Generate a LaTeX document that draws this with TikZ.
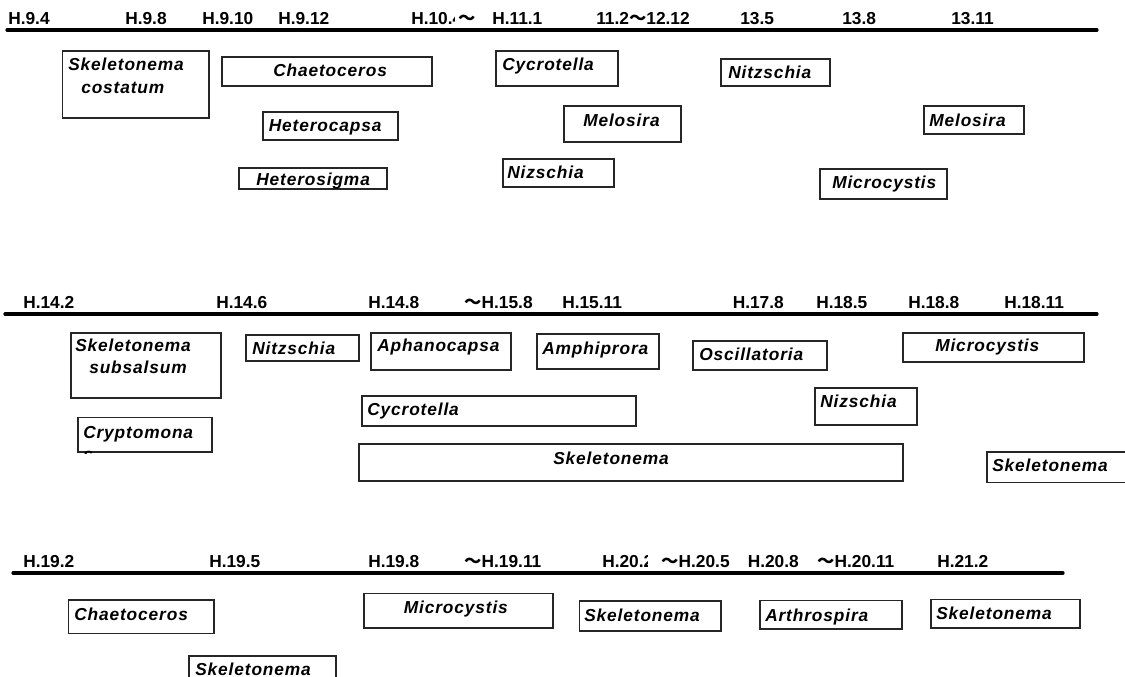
\documentclass[tikz,border=0pt]{standalone}
\usepackage{fontspec}
\setmainfont{Liberation Sans}
\newfontfamily\cjk{Noto Sans CJK JP}
\newfontfamily\spfont[LetterSpace=5]{Liberation Sans}
\tikzset{
  hdr/.style={anchor=base west, inner sep=0pt, font=\fontsize{13}{15}\selectfont\bfseries},
  sp/.style={anchor=base west, inner sep=0pt, font=\fontsize{13}{15}\selectfont\spfont\bfseries\itshape},
  boxline/.style={draw=black!85, line width=0.8pt},
  axis/.style={line width=2.4pt, line cap=round},
}
\begin{document}
\begin{tikzpicture}[x=0.75pt,y=-0.75pt]
\useasboundingbox (0,0) rectangle (1125,677);
% ---------- Row 1 ----------
\coordinate (r1a) at (7,30);
\coordinate (r1b) at (1097,30);
\draw[axis] (r1a) -- (r1b);
\node[hdr] (h1) at (8,25) {H.9.4};
\node[hdr] (h2) at (125,25) {H.9.8};
\node[hdr] (h3) at (202,25) {H.9.10};
\node[hdr] (h4) at (278,25) {H.9.12};
\begin{scope}
\clip (405,0) rectangle (454,40);
\node[hdr] (h5) at (411,25) {H.10.4};
\end{scope}
\node[hdr] (h6) at (458,25) {{\cjk ～}};
\node[hdr] (h7) at (492,25) {H.11.1};
\node[hdr] (h8) at (596,25) {11.2{\cjk ～}12.12};
\node[hdr] (h9) at (740,25) {13.5};
\node[hdr] (h10) at (842,25) {13.8};
\node[hdr] (h11) at (951,25) {13.11};

\draw[boxline] (62.5,51) rectangle (209,118);
\node[sp] (s1) at (68,71) {Skeletonema};
\node[sp] (s1b) at (81,93.5) {costatum};
\draw[boxline] (222,57) rectangle (432,86);
\node[sp] (s2) at (273,77) {Chaetoceros};
\draw[boxline] (496,51) rectangle (618,86);
\node[sp] (s3) at (502,71) {Cycrotella};
\draw[boxline] (721,59) rectangle (830,86);
\node[sp] (s4) at (728,79) {Nitzschia};
\draw[boxline] (263,112) rectangle (398,140);
\node[sp] (s5) at (268.6,131.7) {Heterocapsa};
\draw[boxline] (564,106) rectangle (681,142);
\node[sp] (s6) at (583,127) {Melosira};
\draw[boxline] (924,106) rectangle (1024,134);
\node[sp] (s7) at (929,127) {Melosira};
\draw[boxline] (503,159) rectangle (614,187);
\node[sp] (s8) at (507,179) {Nizschia};
\draw[boxline] (239,168) rectangle (387,189);
\node[sp] (s9) at (256,186) {Heterosigma};
\draw[boxline] (820,169) rectangle (947,199);
\node[sp] (s10) at (832,189) {Microcystis};

% ---------- Row 2 ----------
\coordinate (r2a) at (5,314);
\coordinate (r2b) at (1097,314);
\draw[axis] (r2a) -- (r2b);
\node[hdr] (g1) at (23,308.6) {H.14.2};
\node[hdr] (g2) at (216,308.6) {H.14.6};
\node[hdr] (g3) at (368,308.6) {H.14.8};
\node[hdr] (g4) at (464,308.6) {{\cjk ～}H.15.8};
\node[hdr] (g5) at (562,308.6) {H.15.11};
\node[hdr] (g6) at (732.5,308.6) {H.17.8};
\node[hdr] (g7) at (816,308.6) {H.18.5};
\node[hdr] (g8) at (908,308.6) {H.18.8};
\node[hdr] (g9) at (1004,308.6) {H.18.11};

\draw[boxline] (71,333) rectangle (221,398);
\node[sp] (t1) at (75,352) {Skeletonema};
\node[sp] (t1b) at (89,373.5) {subsalsum};
\draw[boxline] (246,335) rectangle (359,361);
\node[sp] (t2) at (252,354) {Nitzschia};
\draw[boxline] (371,333) rectangle (511,370);
\node[sp] (t3) at (377,352) {Aphanocapsa};
\draw[boxline] (537,334) rectangle (659,369);
\node[sp] (t4) at (542,354) {Amphiprora};
\draw[boxline] (693,341) rectangle (827,370);
\node[sp] (t5) at (699,361) {Oscillatoria};
\draw[boxline] (903,333) rectangle (1084,362);
\node[sp] (t6) at (935,352) {Microcystis};
\draw[boxline] (78,417.5) rectangle (212,452);
\begin{scope}
\clip (70,410) rectangle (220,453);
\node[sp] (t7) at (83,438) {Cryptomona};
\node[sp] (t7b) at (83,460) {s};
\end{scope}
\draw[boxline] (362,396) rectangle (636,426);
\node[sp] (t8) at (367,416) {Cycrotella};
\draw[boxline] (815,388) rectangle (917,425);
\node[sp] (t9) at (820,407) {Nizschia};
\draw[boxline] (359,444) rectangle (903,481);
\node[sp] (t10) at (553,464.5) {Skeletonema};
\draw[boxline] (987,452) rectangle (1130,482.5);
\node[sp] (t11) at (992,471) {Skeletonema};

% ---------- Row 3 ----------
\coordinate (r3a) at (13,573);
\coordinate (r3b) at (1063,573);
\draw[axis] (r3a) -- (r3b);
\node[hdr] (k1) at (23,567) {H.19.2};
\node[hdr] (k2) at (209,567) {H.19.5};
\node[hdr] (k3) at (368,567) {H.19.8};
\node[hdr] (k4) at (464,567) {{\cjk ～}H.19.11};
\begin{scope}
\clip (595,540) rectangle (647,580);
\node[hdr] (k5) at (602,567) {H.20.2};
\end{scope}
\node[hdr] (k6) at (661,567) {{\cjk ～}H.20.5};
\node[hdr] (k7) at (747.5,567) {H.20.8};
\node[hdr] (k8) at (817,567) {{\cjk ～}H.20.11};
\node[hdr] (k9) at (937,567) {H.21.2};

\draw[boxline] (68.5,600) rectangle (214,633.5);
\node[sp] (u1) at (74,620) {Chaetoceros};
\draw[boxline] (364,593.5) rectangle (553,628);
\node[sp] (u2) at (403.6,613) {Microcystis};
\draw[boxline] (189,656) rectangle (336,690);
\node[sp] (u3) at (195,675) {Skeletonema};
\draw[boxline] (579.6,601) rectangle (721,631);
\node[sp] (u4) at (584,621) {Skeletonema};
\draw[boxline] (760,600.7) rectangle (902,629);
\node[sp] (u5) at (765,621) {Arthrospira};
\draw[boxline] (931,599.6) rectangle (1080,628);
\node[sp] (u6) at (936,619) {Skeletonema};
\end{tikzpicture}
\end{document}
